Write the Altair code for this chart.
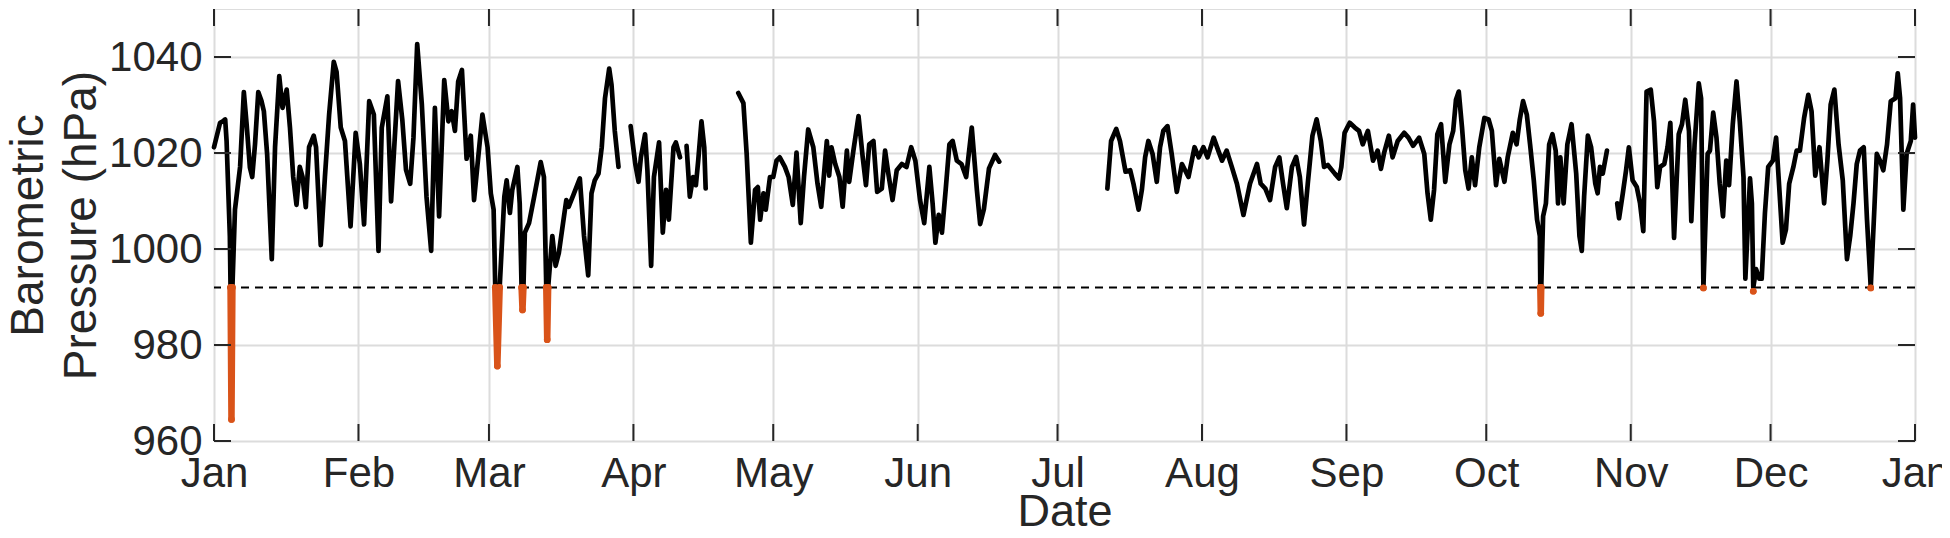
import altair as alt
import pandas as pd

# ---------------- data (day of year, hPa) ----------------
seg1_day = [0.0, 1.3, 1.9, 2.4, 2.7, 3.4, 3.55, 3.75, 3.95, 4.5, 5.6, 6.4, 7.0, 7.7, 8.2, 8.8, 9.5, 10.2, 10.7,
            11.4, 12.4, 13.1, 14.0, 14.7, 15.6, 16.3, 17.0, 17.7, 18.4, 19.0, 19.7, 20.4, 21.4, 21.9, 22.9,
            23.8, 24.7, 25.7, 26.3, 27.2, 28.1, 29.3, 30.4, 31.3, 32.2, 33.3, 34.3, 35.3, 36.0, 37.2, 38.0,
            39.5, 40.4, 41.2, 42.1, 42.8, 43.6, 44.6, 45.6, 46.6, 47.4, 48.3, 49.4, 50.3, 51.0, 51.7, 52.4,
            53.2, 54.2, 55.1, 55.8, 56.7, 57.6, 58.7, 59.4, 60.0, 60.35, 60.8, 61.3, 62.3, 62.8, 63.5, 64.0,
            65.1, 65.6, 66.0, 66.2, 66.4, 66.7, 67.6, 68.7, 70.1, 70.8, 71.3, 71.5, 71.7, 72.6, 73.3, 74.0,
            75.1, 75.6, 76.1, 77.1, 78.5, 79.4, 80.3, 81.0, 81.7, 82.5, 83.2, 83.9, 84.8, 85.3, 86.0, 86.8]
seg1_hpa = [1021.2, 1026.3, 1026.6, 1027.0, 1022.5, 1002.7, 992.0, 964.5, 992.0, 1008.2, 1017.1, 1032.7,
            1026.0, 1017.0, 1015.0, 1021.8, 1032.7, 1030.8, 1028.7, 1019.8, 997.9, 1021.2, 1036.0, 1029.4,
            1033.2, 1025.3, 1015.0, 1009.2, 1017.1, 1015.0, 1008.7, 1021.2, 1023.6, 1021.2, 1000.8, 1015.0,
            1028.0, 1039.0, 1036.9, 1025.3, 1022.5, 1004.7, 1024.2, 1017.7, 1005.1, 1030.8, 1028.0, 999.6,
            1025.3, 1031.8, 1009.9, 1035.0, 1027.0, 1016.5, 1013.6, 1023.2, 1042.7, 1030.1, 1010.9, 999.6,
            1029.4, 1006.8, 1035.2, 1026.6, 1028.7, 1024.6, 1034.9, 1037.3, 1018.8, 1023.6, 1010.2, 1019.1,
            1028.0, 1021.2, 1011.6, 1008.2, 992.0, 975.6, 992.0, 1010.9, 1014.3, 1007.5, 1012.3, 1017.1,
            1009.5, 992.0, 987.3, 992.0, 1003.4, 1005.4, 1010.9, 1018.1, 1015.0, 992.0, 981.1, 992.0,
            1002.7, 996.5, 999.2, 1006.8, 1010.2, 1008.8, 1011.2, 1014.7, 1002.7, 994.5, 1011.6, 1014.3,
            1015.7, 1021.2, 1031.4, 1037.6, 1034.2, 1024.6, 1017.1]

seg2_day = [89.4, 90.4, 91.1, 91.6, 92.5, 93.0, 93.8, 94.4, 95.5, 96.3, 97.0, 97.6, 98.6, 99.1, 100.0]
seg2_hpa = [1025.6, 1017.7, 1014.0, 1019.1, 1023.9, 1016.4, 996.5, 1015.0, 1022.2, 1003.4, 1012.3, 1006.1,
            1021.2, 1022.2, 1019.1]

seg3_day = [101.4, 102.1, 102.8, 103.4, 103.9, 104.6, 105.2, 105.5]
seg3_hpa = [1021.5, 1010.9, 1015.0, 1013.3, 1018.4, 1026.6, 1021.2, 1012.6]

seg4_day = [112.5, 113.6, 114.3, 115.2, 116.1, 116.7, 117.2, 117.9, 118.4, 119.3, 120.0, 120.7, 121.4, 122.5,
            123.3, 124.2, 125.0, 125.9, 126.6, 127.5, 128.6, 129.5, 130.3, 131.5, 132.0, 132.5, 133.3, 134.2,
            134.9, 135.8, 136.3, 137.2, 138.3, 139.2, 139.9, 140.6, 141.5, 142.3, 143.3, 144.0, 144.7, 145.6,
            146.5, 147.6, 148.6, 149.6, 150.5, 151.5, 152.4, 153.5, 154.2, 154.8, 155.5, 156.2, 157.0, 157.8,
            158.5, 159.4, 160.4, 161.4, 162.6, 163.7, 164.4, 165.2, 166.3, 167.6, 168.5]
seg4_hpa = [1032.5, 1030.4, 1019.8, 1001.3, 1012.3, 1012.9, 1006.1, 1011.6, 1008.2, 1015.0, 1015.0, 1018.4,
            1019.1, 1017.1, 1015.0, 1009.2, 1020.1, 1005.4, 1015.0, 1024.9, 1021.2, 1013.6, 1008.8, 1022.5,
            1015.3, 1021.2, 1017.7, 1015.0, 1008.8, 1020.5, 1014.0, 1020.5, 1027.7, 1019.1, 1013.3, 1021.8,
            1022.5, 1011.9, 1012.6, 1020.5, 1015.7, 1010.2, 1016.4, 1017.7, 1017.1, 1021.2, 1018.4, 1010.2,
            1005.4, 1017.1, 1009.5, 1001.3, 1007.1, 1003.4, 1012.3, 1021.8, 1022.5, 1018.4, 1017.7, 1015.0,
            1025.3, 1012.3, 1005.2, 1008.3, 1016.8, 1019.6, 1018.2]

seg5_day = [191.7, 192.5, 193.6, 194.4, 195.6, 196.6, 197.3, 198.4, 199.1, 199.8, 200.5, 201.4, 202.3, 203.0,
            203.7, 204.6, 205.5, 206.6, 207.7, 209.1, 210.4, 211.3, 212.3, 213.2, 214.5, 215.5, 216.3, 217.3,
            218.4, 219.5, 220.9, 222.3, 223.8, 224.6, 225.6, 226.6, 227.7, 228.6, 229.4, 230.2, 231.3, 232.2,
            233.0, 233.9, 234.7, 235.7, 236.6, 237.5, 238.2, 239.0, 240.5, 241.4, 241.9, 242.6, 243.7, 244.8,
            245.7, 246.5, 247.6, 248.7, 249.7, 250.4, 251.1, 252.1, 252.9, 254.0, 255.4, 256.3, 257.3, 258.6,
            259.7, 260.4, 261.1, 261.8, 262.5, 263.3, 264.2, 265.1, 265.9, 266.5, 267.1, 267.8, 268.5, 269.2,
            269.9, 270.6, 271.5, 272.6, 273.5, 274.2, 275.1, 275.8, 276.9, 277.6, 278.7, 279.5, 280.2, 280.9,
            281.7, 282.4, 283.2, 283.9, 284.5, 284.6, 284.7, 284.8, 285.2, 285.8, 286.5, 287.2, 287.9, 288.4,
            288.9, 289.6, 290.4, 291.3, 292.3, 293.0, 293.5, 294.0, 294.8, 295.5, 296.4, 296.9, 297.4, 298.0,
            298.9]
seg5_hpa = [1012.6, 1022.5, 1025.0, 1022.5, 1016.1, 1016.4, 1013.6, 1008.2, 1012.3, 1019.1, 1022.5, 1019.8,
            1014.0, 1021.2, 1024.6, 1025.6, 1019.8, 1011.9, 1017.7, 1015.0, 1021.2, 1019.1, 1021.2, 1019.1,
            1023.2, 1020.5, 1018.4, 1020.5, 1017.1, 1013.6, 1007.1, 1013.6, 1017.7, 1013.6, 1012.6, 1010.2,
            1017.1, 1019.1, 1013.6, 1008.5, 1017.1, 1019.2, 1015.0, 1005.1, 1013.6, 1023.6, 1027.0, 1022.5,
            1017.1, 1017.5, 1015.7, 1014.7, 1017.1, 1024.2, 1026.3, 1025.3, 1024.6, 1021.8, 1024.6, 1018.4,
            1020.5, 1016.7, 1020.1, 1023.6, 1019.1, 1022.5, 1024.2, 1023.2, 1021.5, 1023.2, 1019.8, 1011.6,
            1006.1, 1012.3, 1023.9, 1026.0, 1014.0, 1021.8, 1024.6, 1031.1, 1032.8, 1025.3, 1016.4, 1012.6,
            1019.1, 1013.3, 1021.2, 1027.3, 1027.0, 1024.6, 1013.3, 1018.8, 1014.0, 1019.1, 1024.2, 1021.8,
            1027.0, 1030.8, 1028.0, 1021.8, 1014.3, 1006.1, 1002.7, 992.0, 986.6, 992.0, 1006.8, 1009.5,
            1021.8, 1023.9, 1020.5, 1009.5, 1019.1, 1009.5, 1021.8, 1026.0, 1015.7, 1002.7, 999.6, 1010.9,
            1023.6, 1021.2, 1013.6, 1011.6, 1017.1, 1015.7, 1020.5]

seg6_day = [301.1, 301.5, 302.3, 303.0, 303.6, 304.4, 305.3, 306.0, 306.7, 307.4, 308.3, 309.0, 309.7, 310.3,
            311.2, 311.9, 312.5, 313.3, 314.3, 315.0, 315.7, 316.5, 317.0, 317.7, 318.6, 319.1, 319.6, 320.5,
            321.0, 321.7, 322.4, 323.1, 323.8, 324.5, 325.1, 325.9, 326.7, 327.4, 328.2, 328.6, 329.6, 330.0,
            330.3, 330.9, 331.6, 332.1, 332.8, 333.5, 334.5, 335.2, 335.9, 336.6, 337.3, 338.0, 338.9, 339.6,
            340.3, 341.2, 342.1, 342.8, 343.6, 344.5, 345.5, 346.2, 346.9, 347.7, 348.6, 349.5, 350.4, 351.1,
            351.8, 352.5, 353.2, 354.0, 354.7, 355.5, 356.3, 356.8, 357.5, 358.2, 359.0, 359.8, 360.8, 361.3,
            361.8, 362.5, 363.2, 364.1, 364.6, 365.0]
seg6_hpa = [1009.5, 1006.4, 1011.6, 1016.4, 1021.2, 1014.3, 1012.9, 1009.5, 1003.7, 1032.8, 1033.2, 1026.6,
            1012.9, 1017.1, 1017.7, 1021.2, 1026.3, 1002.3, 1023.9, 1026.0, 1031.1, 1024.6, 1005.8, 1021.8,
            1034.5, 1031.4, 991.9, 1019.8, 1020.5, 1028.4, 1023.2, 1013.6, 1006.8, 1018.4, 1013.3, 1026.0,
            1034.9, 1026.6, 1015.0, 993.8, 1014.7, 1009.5, 991.2, 995.8, 993.8, 993.8, 1007.5, 1017.1, 1018.4,
            1023.2, 1012.3, 1001.3, 1004.0, 1013.6, 1017.1, 1020.5, 1020.5, 1027.3, 1032.1, 1028.7, 1015.3,
            1021.2, 1009.5, 1018.4, 1030.1, 1033.2, 1021.8, 1014.3, 997.9, 1002.7, 1009.5, 1017.7, 1020.5,
            1021.2, 1006.1, 991.9, 1008.8, 1019.8, 1018.4, 1016.4, 1021.8, 1030.8, 1031.4, 1036.6, 1031.4,
            1008.2, 1019.8, 1022.5, 1030.1, 1023.2]

THRESHOLD = 992.0
month_starts = [0, 31, 59, 90, 120, 151, 181, 212, 243, 273, 304, 334, 365]
month_names = ["Jan", "Feb", "Mar", "Apr", "May", "Jun", "Jul", "Aug", "Sep", "Oct", "Nov", "Dec", "Jan"]
y_ticks = [960, 980, 1000, 1020, 1040]

# ---------------- tables ----------------
segments = [(seg1_day, seg1_hpa), (seg2_day, seg2_hpa), (seg3_day, seg3_hpa),
            (seg4_day, seg4_hpa), (seg5_day, seg5_hpa), (seg6_day, seg6_hpa)]
frames = []
for i, (d, p) in enumerate(segments):
    frames.append(pd.DataFrame({"day": d, "hpa": p, "seg": i}))
df = pd.concat(frames, ignore_index=True)
df["below"] = df["hpa"] <= THRESHOLD
df["dip"] = (df["below"] != df["below"].shift()).cumsum()
low = df[df["below"]].copy()

thr_df = pd.DataFrame({"hpa": [THRESHOLD]})
xt_df = pd.DataFrame({"day": month_starts})
yt_df = pd.DataFrame({"hpa": y_ticks})

# ---------------- layout ----------------
W, H = 1701, 432
INK = "#262626"
TICK = 17

label_expr = "[" + ",".join("'%s'" % m for m in month_names) + "][indexof([" + \
    ",".join(str(v) for v in month_starts) + "], datum.value)]"

x_axis = alt.Axis(values=month_starts, labelExpr=label_expr, grid=True, gridColor="#dcdcdc", gridWidth=2,
                  ticks=False, domain=False, labelFontSize=42, labelPadding=12, labelFlush=False,
                  labelOverlap=False, labelBound=False, labelColor=INK, title="Date", titleFontSize=45,
                  titleFontWeight="normal", titleColor=INK, titleX=W / 2, titleY=84,
                  titleBaseline="alphabetic", titleAlign="center")
y_axis = alt.Axis(values=y_ticks, format="d", grid=True, gridColor="#dcdcdc", gridWidth=2, ticks=False,
                  domain=False, labelFontSize=42, labelPadding=12, labelColor=INK, labelOverlap=False,
                  title=["Barometric", "Pressure (hPa)"], titleFontSize=46, titleFontWeight="normal",
                  titleColor=INK, titleAngle=270, titleX=-172, titleY=H / 2, titleAlign="center",
                  titleBaseline="alphabetic", titleLineHeight=53)

x_scale = alt.Scale(domain=[0, 365], nice=False, zero=False)
y_scale = alt.Scale(domain=[960, 1050], nice=False, zero=False)


def X():
    return alt.X("day:Q", scale=x_scale, axis=x_axis)


def Y(field="hpa"):
    return alt.Y(field + ":Q", scale=y_scale, axis=y_axis)


threshold = alt.Chart(thr_df).mark_rule(color="black", strokeWidth=2, strokeDash=[8, 6]).encode(y=Y())

black = alt.Chart(df).transform_calculate(
    hpa="max(datum.hpa, %s)" % THRESHOLD
).mark_line(color="black", strokeWidth=4.7, strokeJoin="round", strokeCap="round").encode(
    x=X(), y=Y(), detail="seg:N", order="day:Q")

orange_line = alt.Chart(low).mark_line(color="#D95319", strokeWidth=6.5, strokeJoin="round",
                                        strokeCap="round").encode(x=X(), y=Y(), detail="dip:N",
                                                                   order="day:Q")
orange_pts = alt.Chart(low).mark_circle(color="#D95319", size=45, opacity=1).encode(x=X(), y=Y())

tick_bottom = alt.Chart(xt_df).mark_rule(color=INK, strokeWidth=2).encode(
    x=X(), y=alt.value(H), y2=alt.value(H - TICK))
tick_top = alt.Chart(xt_df).mark_rule(color=INK, strokeWidth=2).encode(
    x=X(), y=alt.value(0), y2=alt.value(TICK))
tick_left = alt.Chart(yt_df).mark_rule(color=INK, strokeWidth=2).encode(
    y=Y(), x=alt.value(0), x2=alt.value(TICK))
tick_right = alt.Chart(yt_df).mark_rule(color=INK, strokeWidth=2).encode(
    y=Y(), x=alt.value(W - TICK), x2=alt.value(W))

chart = alt.layer(
    threshold, black, orange_line, orange_pts, tick_bottom, tick_top, tick_left, tick_right
).properties(
    width=W, height=H,
    padding={"left": 206, "top": 1, "right": 27, "bottom": 87},
    autosize=alt.AutoSizeParams(type="none"),
    background="white",
).configure_view(
    stroke=INK, strokeWidth=2
).configure(
    font="Liberation Sans"
)

chart.save("out.html", embed_options={"renderer": "svg", "actions": False})
